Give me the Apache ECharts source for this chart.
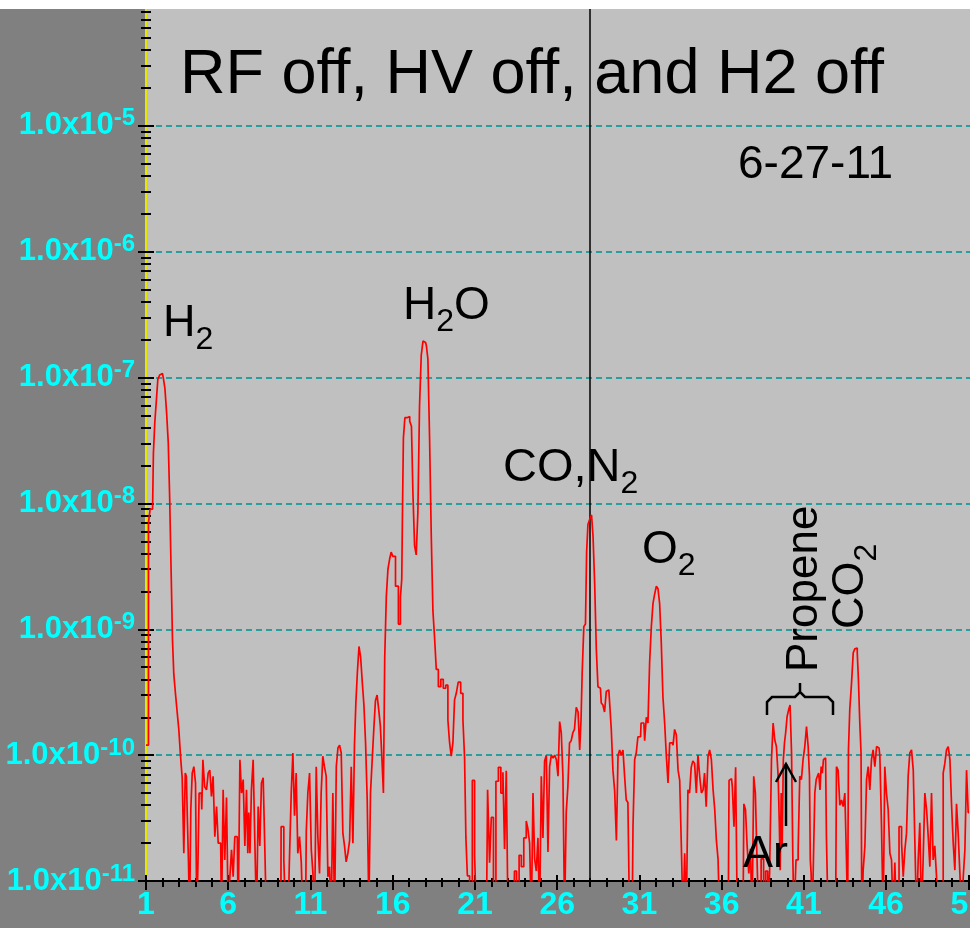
<!DOCTYPE html>
<html><head><meta charset="utf-8">
<script src="https://cdn.jsdelivr.net/npm/echarts@6/dist/echarts.min.js"></script>
<style>html,body{margin:0;padding:0;background:#808080;}#c{width:970px;height:928px;}</style>
</head><body><div id="c"></div>
<script>
// ---- data: [mass (amu), partial pressure (Torr)]; 5e-12 = below floor ----
const segH2 = [[1.0,1.2e-10],[1.1,1.2e-10],[1.2,7e-9],[1.3,9e-9],[1.4,9e-9],[1.5,2.5e-8],[1.57,4.4e-8],[1.67,6.3e-8],[1.77,9.7e-8],[1.9,1.05e-7],[2.0,1.08e-7],[2.1,1.0e-7],[2.2,8.2e-8],[2.31,5.2e-8],[2.4,3e-8],[2.48,1.1e-8],[2.58,2.8e-9],[2.64,8.3e-10],[2.74,4.4e-10],[2.84,3.1e-10],[2.95,2.2e-10],[3.04,1.6e-10],[3.15,1e-10],[3.25,6.6e-11]];
const segLow = [[3.35,1.66e-11],[3.42,7.2e-11],[3.49,6.8e-11],[3.55,2.9e-11],[3.61,1.47e-11],[3.69,5e-12],[3.76,3.7e-11],[3.86,7.2e-11],[3.96,8.1e-11],[4.06,6e-11],[4.12,5e-12],[4.2,1.4e-11],[4.26,5e-11],[4.36,5e-11],[4.42,3.7e-11],[4.5,9.2e-11],[4.63,5.6e-11],[4.73,5.3e-11],[4.83,7.2e-11],[4.93,7.6e-11],[5.03,4.7e-11],[5.13,6.8e-11],[5.24,2.25e-11],[5.34,3.9e-11],[5.44,2e-11],[5.54,2e-11],[5.64,5e-12],[5.74,5.3e-11],[5.84,1.47e-11],[5.95,4.6e-11],[6.05,5e-12],[6.15,1.08e-11],[6.25,1.77e-11],[6.35,1.08e-11],[6.45,2.25e-11],[6.55,2.25e-11],[6.66,5e-12],[6.76,9.2e-11],[6.86,5e-11],[6.96,6.4e-11],[7.06,1.9e-11],[7.16,5.3e-11],[7.22,1.66e-11],[7.28,3.5e-11],[7.36,1.66e-11],[7.46,5.3e-11],[7.57,9.2e-11],[7.67,2e-11],[7.77,5e-12],[7.87,3.9e-11],[7.97,1.9e-11],[8.07,6e-11],[8.18,6.6e-11],[8.28,1.7e-11],[8.36,5e-12],[9.2,5e-12],[9.23,2.7e-11],[9.33,2.7e-11],[9.43,1.47e-11],[9.55,5e-12],[9.64,5e-12],[9.78,1.3e-11],[9.88,5e-11],[9.98,1.04e-10],[10.08,3.3e-11],[10.18,7.2e-11],[10.28,1.66e-11],[10.39,2.25e-11],[10.49,1.42e-11],[10.59,5e-12],[10.7,5e-12],[10.79,2.5e-11],[10.89,5e-11],[11.0,7.2e-11],[11.1,1.77e-11],[11.2,1.15e-11],[11.3,5e-12],[11.4,8.1e-11],[11.5,2.25e-11],[11.6,1.15e-11],[11.7,5e-11],[11.8,9.8e-11],[11.9,8.1e-11],[12.01,6.8e-11],[12.11,1.08e-11],[12.21,1.3e-11],[12.31,5e-12],[12.41,5e-11],[12.52,5e-12],[12.62,8.1e-11],[12.72,1.14e-10],[12.82,1.2e-10],[12.92,1.04e-10],[13.02,2.4e-11],[13.12,1.9e-11],[13.22,1.42e-11],[13.33,1.66e-11],[13.43,2.1e-11],[13.53,8.1e-11],[13.63,2e-11]];
const segWater = [[13.72,1.2e-10],[13.8,2.6e-10],[13.9,4.5e-10],[14.0,7.3e-10],[14.1,6e-10],[14.2,3.8e-10],[14.3,2.5e-10],[14.4,1.25e-10],[14.5,4.4e-11],[14.6,6e-12],[14.7,5e-11],[14.8,9e-11],[14.9,1.6e-10],[15.0,2.7e-10],[15.1,3e-10],[15.2,2.3e-10],[15.3,1.7e-10],[15.4,9e-11],[15.47,5e-11],[15.56,6e-10],[15.66,1.8e-9],[15.76,3e-9],[15.86,3.6e-9],[15.95,4.1e-9],[16.07,3.8e-9],[16.27,2.2e-9],[16.42,1.1e-9],[16.52,1.8e-9],[16.58,2.5e-9],[16.62,1e-8],[16.68,3.3e-8],[16.8,4.8e-8],[16.97,4.9e-8],[17.1,4.5e-8],[17.18,4.1e-8],[17.28,1.2e-8],[17.38,4.6e-9],[17.48,3.9e-9],[17.58,8.5e-9],[17.68,5.9e-8],[17.79,1.5e-7],[17.89,1.95e-7],[18.0,1.9e-7],[18.09,1.8e-7],[18.19,1.4e-7],[18.29,3.4e-8],[18.4,5.5e-9],[18.49,1.4e-9],[18.6,8.6e-10],[18.7,4.8e-10],[18.85,3.5e-10],[19.0,4e-10],[19.15,3.4e-10],[19.3,3.6e-10],[19.41,1.9e-10],[19.51,1.25e-10],[19.61,9.8e-11],[19.71,1.25e-10],[19.81,2.75e-10],[19.92,3.1e-10],[20.05,3.8e-10],[20.22,3.1e-10],[20.32,1.9e-10],[20.42,9.5e-11],[20.48,2.2e-11],[20.6,1.1e-11],[20.75,5e-12],[20.93,6.3e-11],[21.03,1.6e-11],[21.15,5e-12],[21.7,5e-12]];
const segAir = [[21.84,5.3e-11],[21.94,1.4e-11],[22.05,3.2e-11],[22.2,6e-12],[22.35,6.2e-11],[22.5,8e-11],[22.65,5e-11],[22.75,7.3e-11],[22.85,1.8e-11],[22.96,7.5e-11],[23.06,5e-12],[23.35,5e-12],[23.46,1.2e-11],[23.6,5e-12],[23.77,1.6e-11],[23.87,1.3e-11],[24.07,2.2e-11],[24.17,3e-11],[24.27,2.6e-11],[24.38,2e-11],[24.48,5e-12],[24.58,5e-11],[24.68,1.5e-11],[24.78,1.2e-11],[24.88,2.2e-11],[24.98,5e-12],[25.09,6.8e-11],[25.18,2.2e-11],[25.29,9e-11],[25.39,1e-10],[25.49,1.7e-11],[25.59,8.1e-11],[25.7,1e-10],[25.8,9.5e-11],[25.9,1e-10],[26.0,9.2e-11],[26.1,6.8e-11],[26.2,1.85e-10],[26.3,1.5e-10],[26.4,6.8e-11],[26.5,5e-12],[26.6,3.5e-11],[26.7,5.6e-11],[26.8,1.25e-10],[26.9,1.3e-10],[27.0,1.5e-10],[27.1,1.6e-10],[27.22,2.4e-10],[27.32,2.2e-10],[27.42,1.1e-10],[27.48,1.9e-10],[27.56,4.5e-10],[27.68,1.05e-9],[27.76,1.1e-9],[27.82,4.1e-9],[27.92,6.8e-9],[28.05,7.5e-9],[28.13,8.1e-9],[28.23,5.5e-9],[28.33,2.3e-9],[28.43,6.9e-10],[28.53,3.5e-10],[28.63,3.4e-10],[28.73,2.6e-10],[28.83,2.5e-10],[28.93,2.2e-10],[29.04,3.2e-10],[29.14,3.3e-10],[29.24,2.6e-10],[29.34,1.6e-10],[29.44,7.6e-11],[29.55,5.2e-11],[29.65,2.1e-11],[29.75,1e-10],[29.85,1.1e-10],[29.95,1e-10],[30.05,1.1e-10],[30.15,6.8e-11],[30.25,4.4e-11],[30.35,4.2e-11],[30.45,5e-12],[30.56,5e-12],[30.66,2.7e-11],[30.76,9.2e-11],[30.86,1.05e-10],[30.96,1.4e-10],[31.07,1.4e-10],[31.13,1.8e-10],[31.27,1.8e-10],[31.37,1.3e-10],[31.47,2e-10],[31.57,1.8e-10],[31.67,5.4e-10],[31.78,1.05e-9],[31.87,1.6e-9],[31.98,1.9e-9],[32.08,2.2e-9],[32.18,2.1e-9],[32.28,1.6e-9],[32.38,7.8e-10],[32.48,2.9e-10],[32.59,1.8e-10],[32.69,9.7e-11],[32.79,6e-11],[32.89,1.25e-10],[33.0,1.25e-10],[33.09,1.2e-10],[33.19,1.6e-10],[33.3,1.45e-10],[33.4,7.6e-11],[33.5,6.3e-11],[33.6,1.9e-11],[33.7,5e-12],[33.8,1.66e-11],[33.9,5e-12],[34.0,5.3e-11],[34.1,5e-11],[34.2,8e-11],[34.3,9e-11],[34.41,8.6e-11],[34.51,5e-11],[34.61,1e-10],[34.72,6.8e-11],[34.82,5e-11],[34.92,5.3e-11],[35.0,7.2e-11],[35.12,3.9e-11],[35.22,9.7e-11],[35.32,1.1e-10],[35.43,9.2e-11],[35.53,5.3e-11],[35.63,3.7e-11],[35.73,2.1e-11],[35.83,1.5e-11],[35.93,5e-12],[36.4,5e-12],[36.5,6.3e-11],[36.6,6.5e-11],[36.7,5.6e-11],[36.8,2.7e-11],[36.9,8e-11],[37.0,5e-12],[37.3,5e-12],[37.4,4.1e-11],[37.5,3.7e-11],[37.6,1.9e-11],[37.7,1.15e-11],[37.8,1.8e-11],[37.9,5e-12],[38.0,6.8e-11],[38.1,5e-11],[38.2,1.5e-11],[38.3,5e-12]];
const segHigh = [[38.5,1.5e-11],[38.6,5e-12],[38.75,1.2e-11],[38.85,5e-12],[38.98,1.15e-11],[39.08,9.2e-11],[39.18,1.8e-10],[39.28,1.32e-10],[39.38,1.17e-10],[39.49,6.8e-11],[39.53,2.7e-11],[39.59,1.22e-11],[39.65,5e-11],[39.71,1.9e-11],[39.79,9.2e-11],[39.85,1.25e-10],[39.93,1.5e-10],[40.03,2.03e-10],[40.12,2.3e-10],[40.2,2.5e-10],[40.3,1.04e-10],[40.36,1.47e-11],[40.44,5e-12],[40.6,1.47e-11],[40.7,1.77e-11],[40.8,6.8e-11],[40.9,6.4e-11],[41.0,9.2e-11],[41.11,1.17e-10],[41.21,1.69e-10],[41.31,1.17e-10],[41.37,6.8e-11],[41.41,1.47e-11],[41.47,1.15e-11],[41.55,5e-12],[41.61,1.47e-11],[41.72,5e-11],[41.78,6.4e-11],[41.86,6.8e-11],[41.94,7.2e-11],[42.02,5.3e-11],[42.08,8.1e-11],[42.16,7.2e-11],[42.22,9.2e-11],[42.32,9.5e-11],[42.42,2.25e-11],[42.53,5e-12],[42.93,5e-12],[43.03,8.1e-11],[43.13,7.6e-11],[43.24,4e-11],[43.34,4.4e-11],[43.44,3.9e-11],[43.54,5e-11],[43.64,1.47e-11],[43.68,5e-12],[43.74,1.1e-10],[43.84,2.3e-10],[43.95,3.7e-10],[44.05,6.5e-10],[44.14,7e-10],[44.21,7.1e-10],[44.28,6.5e-10],[44.35,4e-10],[44.45,1.8e-10],[44.5,1.04e-10],[44.55,5e-12],[44.66,1.22e-11],[44.76,1.9e-11],[44.86,6.4e-11],[44.96,8.1e-11],[45.06,5.3e-11],[45.16,9.2e-11],[45.26,1.1e-10],[45.37,8.1e-11],[45.47,1.17e-10],[45.57,1.14e-10],[45.67,9.8e-11],[45.77,2.7e-11],[45.87,5e-12],[45.97,8.1e-11],[46.07,5e-11],[46.18,3.7e-11],[46.28,1.66e-11],[46.38,1.47e-11],[46.48,5e-12],[46.58,1.4e-11],[46.68,5e-12],[46.89,2.7e-11],[46.99,2e-11],[47.09,1.08e-11],[47.19,1.77e-11],[47.29,2.4e-11],[47.39,6.8e-11],[47.49,1.04e-10],[47.6,1.1e-10],[47.7,7.6e-11],[47.8,2e-11],[47.9,5e-12],[48.0,1.47e-11],[48.1,2.9e-11],[48.2,5e-12],[48.3,1.47e-11],[48.41,5e-11],[48.51,3.7e-11],[48.61,2.25e-11],[48.71,1.3e-11],[48.81,5e-11],[48.91,1.47e-11],[49.01,1.9e-11],[49.12,1.08e-11],[49.22,5e-12],[49.42,5e-12],[49.52,7.2e-11],[49.62,8.6e-11],[49.72,1.1e-10],[49.83,1.17e-10],[49.93,9.2e-11],[50.03,4e-11],[50.13,2e-11],[50.23,1.22e-11],[50.33,4.1e-11],[50.43,2.4e-11],[50.54,1.15e-11],[50.64,5e-12],[50.74,1.08e-11],[50.84,1.77e-11],[50.94,7.6e-11],[51.04,3.5e-11]];
const cursorMass = 28;
const massMin = 1, massMax = 51.1, massStep = 5;
const pMin = 1e-11, pMax = 1e-4;
const decades = [-11,-10,-9,-8,-7,-6,-5,-4];
const minorMultipliers = [2,3,4,5,6,7,8,9];

const spectrum = segH2.concat(segLow, segWater, segAir, segHigh);
const minorVals = [];
decades.slice(0,-1).forEach(d => minorMultipliers.forEach(k => minorVals.push(k * Math.pow(10, d))));

const FONT = '"Liberation Sans", Arial, sans-serif';
const CYAN = '#00ffff';
const chart = echarts.init(document.getElementById('c'), null, {renderer:'canvas'});

function xAx(inside, primary) {
  return {
    type:'value', min:massMin, max:massMax, interval:massStep, position:'bottom',
    axisLine:{show:primary, onZero:false, lineStyle:{color:'#000', width:2}},
    axisTick:{show:true, inside:inside, length: inside?6:9, lineStyle:{color:'#000', width:2}},
    minorTick:{show:true, splitNumber:5, length: inside?3:6, lineStyle:{color:'#000', width:2}},
    splitLine:{show:false},
    axisLabel:{show:primary, showMaxLabel:false, color:CYAN, fontSize:32, fontWeight:'bold', fontFamily:FONT, margin:8}
  };
}
function yAx(primary, inside, minor) {
  const ax = {
    type:'log', logBase:10, min:pMin, max:pMax, splitNumber:7, position:'left',
    axisLine:{show:primary, onZero:false, lineStyle:{color:'#e6e600', width:2}},
    axisTick:{show:true, inside:inside, length: minor?5:8, lineStyle:{color:'#000', width:2}},
    splitLine:{show:primary, lineStyle:{color:'#2a9d9d', type:[6,4], width:2}},
    axisLabel:{show:primary}
  };
  if (minor) ax.axisTick.customValues = minorVals;
  if (primary) {
    ax.axisLabel = {
      show:true, margin:11,
      formatter: v => '{b|1.0x10}{s|' + Math.round(Math.log10(v)) + '}',
      rich:{
        b:{color:CYAN, fontSize:31, fontWeight:'bold', fontFamily:FONT},
        s:{color:CYAN, fontSize:24, fontWeight:'bold', fontFamily:FONT, padding:[0,0,14,0]}
      }
    };
  }
  return ax;
}

function label(txt, sub, tail, size, subSize, x, y, extra) {
  const rich = {
    n:{fontSize:size, fontFamily:FONT, fill:'#000', lineHeight:size+2},
    s:{fontSize:subSize, fontFamily:FONT, fill:'#000', lineHeight:subSize+2, padding:[32,0,0,0]}
  };
  let t = '{n|' + txt + '}';
  if (sub) t += '{s|' + sub + '}';
  if (tail) t += '{n|' + tail + '}';
  return Object.assign({type:'text', x:x, y:y, z:50, style:{text:t, rich:rich, align:'left', verticalAlign:'middle', fill:'#000'}}, extra||{});
}

chart.setOption({
  animation:false,
  backgroundColor:'#808080',
  grid:{left:146, right:0, top:0, bottom:47, show:true, backgroundColor:'#c0c0c0', borderWidth:0, containLabel:false, outerBoundsMode:'none'},
  xAxis:[xAx(false,true), xAx(true,false)],
  yAxis:[yAx(true,false,false), yAx(false,true,false), yAx(false,false,true), yAx(false,true,true)],
  series:[{
    type:'line', data:spectrum, xAxisIndex:0, yAxisIndex:0, showSymbol:false, step:'middle', clip:true,
    lineStyle:{color:'#ff0000', width:1.7}, z:5,
    markLine:{silent:true, symbol:['none','none'], label:{show:false}, animation:false,
      lineStyle:{color:'#000', width:1.5, type:'solid'}, data:[{xAxis:cursorMass}]}
  }],
  graphic:[
    {type:'rect', shape:{x:0,y:0,width:970,height:9}, style:{fill:'#ffffff'}, z:100},
    {type:'text', x:180, y:76, z:50, style:{text:'RF off, HV off, and H2 off', font:'63px ' + FONT, fill:'#000', align:'left', verticalAlign:'middle'}},
    {type:'text', x:738, y:165, z:50, style:{text:'6-27-11', font:'46px ' + FONT, fill:'#000', align:'left', verticalAlign:'middle'}},
    label('H','2','',45,32,163,324),
    label('H','2','O',46,32,403,306),
    label('CO,N','2','',47,32,503,468),
    label('O','2','',46,32,642,550),
    label('Propene','','',44,32,805,672,{rotation:Math.PI/2}),
    label('CO','2','',45,32,851,629,{rotation:Math.PI/2}),
    {type:'text', x:743, y:855, z:50, style:{text:'Ar', font:'45px ' + FONT, fill:'#000', align:'left', verticalAlign:'middle'}},
    {type:'polyline', z:50, shape:{points:[[767,715],[767,702],[772,697],[795,697],[800,692],[800,683],[800,692],[805,697],[828,697],[833,702],[833,715]]}, style:{stroke:'#000', lineWidth:2.5, fill:null}},
    {type:'polyline', z:50, shape:{points:[[786,826],[786,764]]}, style:{stroke:'#000', lineWidth:2.5, fill:null}},
    {type:'polyline', z:50, shape:{points:[[776,782],[786,764],[796,782]]}, style:{stroke:'#000', lineWidth:2.5, fill:null}}
  ]
});
</script></body></html>
